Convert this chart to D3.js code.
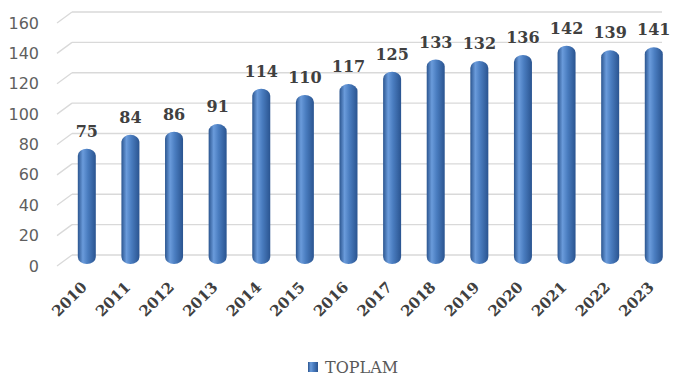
<!doctype html>
<html>
<head>
<meta charset="utf-8">
<script src="https://d3js.org/d3.v7.min.js"></script>
<style>
  body { margin: 0; background: #fff; }
</style>
</head>
<body>
<div id="chart"></div>
<script>
  var years = ["2010","2011","2012","2013","2014","2015","2016","2017","2018","2019","2020","2021","2022","2023"];
  var values = [75, 84, 86, 91, 114, 110, 117, 125, 133, 132, 136, 142, 139, 141];
  var yTicks = [0, 20, 40, 60, 80, 100, 120, 140, 160];
  var seriesName = "TOPLAM";

  var width = 678, height = 378;
  var depthX = 15, depthY = 11;

  var svg = d3.select("#chart").append("svg")
      .attr("width", width)
      .attr("height", height);

  var defs = svg.append("defs");
  var grad = defs.append("linearGradient")
      .attr("id", "cyl")
      .attr("x1", "0%").attr("x2", "100%")
      .attr("y1", "0%").attr("y2", "0%");
  grad.append("stop").attr("offset", "0%").attr("stop-color", "#2b558f");
  grad.append("stop").attr("offset", "28%").attr("stop-color", "#6a9bdb");
  grad.append("stop").attr("offset", "55%").attr("stop-color", "#4a7dc0");
  grad.append("stop").attr("offset", "100%").attr("stop-color", "#2a5490");

  // back wall scale (gridlines) and front scale (bars)
  var yBack = d3.scaleLinear().domain([0, 160]).range([255, 12]);
  var yFront = d3.scaleLinear().domain([0, 160]).range([264, 18]);

  var x = d3.scaleBand()
      .domain(years)
      .range([65, 675.6])
      .padding(0);

  var gridX0 = 72, gridX1 = 662;

  // gridlines with the perspective diagonal on the left
  var grid = svg.append("g");
  grid.selectAll("line.h")
    .data(yTicks)
    .enter().append("line")
      .attr("x1", gridX0).attr("x2", gridX1)
      .attr("y1", function(d) { return yBack(d); })
      .attr("y2", function(d) { return yBack(d); })
      .attr("stroke", "#d9d9d9")
      .attr("stroke-width", 1.3);
  grid.selectAll("line.d")
    .data(yTicks)
    .enter().append("line")
      .attr("x1", gridX0 - depthX).attr("x2", gridX0)
      .attr("y1", function(d) { return yBack(d) + depthY; })
      .attr("y2", function(d) { return yBack(d); })
      .attr("stroke", "#d9d9d9")
      .attr("stroke-width", 1.3);

  // y labels
  svg.append("g").selectAll("text")
    .data(yTicks)
    .enter().append("text")
      .attr("x", 39)
      .attr("y", function(d) { return yBack(d) + depthY; })
      .attr("dy", "0.35em")
      .attr("text-anchor", "end")
      .attr("font-family", "DejaVu Sans, sans-serif")
      .attr("font-size", 16)
      .attr("fill", "#5f5f5f")
      .text(function(d) { return d; });

  // bars
  var bw = 18;
  svg.append("g").selectAll("rect")
    .data(values)
    .enter().append("rect")
      .attr("x", function(d, i) { return x(years[i]) + x.bandwidth() / 2 - bw / 2; })
      .attr("y", function(d) { return yFront(d); })
      .attr("width", bw)
      .attr("height", function(d) { return yFront(0) - yFront(d); })
      .attr("rx", bw / 2)
      .attr("ry", 7)
      .attr("fill", "url(#cyl)");

  // value labels
  svg.append("g").selectAll("text")
    .data(values)
    .enter().append("text")
      .attr("x", function(d, i) { return x(years[i]) + x.bandwidth() / 2; })
      .attr("y", function(d) { return yFront(d) - 12; })
      .attr("text-anchor", "middle")
      .attr("font-family", "DejaVu Serif, serif")
      .attr("font-weight", "bold")
      .attr("font-size", 16)
      .attr("fill", "#404040")
      .text(function(d) { return d; });

  // x labels rotated
  svg.append("g").selectAll("text")
    .data(years)
    .enter().append("text")
      .attr("transform", function(d) {
        return "translate(" + (x(d) + x.bandwidth() / 2 + 1) + "," + 288 + ") rotate(-45)";
      })
      .attr("text-anchor", "end")
      .attr("font-family", "DejaVu Serif, serif")
      .attr("font-weight", "bold")
      .attr("font-size", 15)
      .attr("fill", "#404040")
      .text(function(d) { return d; });

  // legend
  var legend = svg.append("g").attr("transform", "translate(308,367)");
  legend.append("rect")
      .attr("x", 0).attr("y", -5)
      .attr("width", 10).attr("height", 10)
      .attr("fill", "url(#cyl)");
  legend.append("text")
      .attr("x", 17).attr("y", 0)
      .attr("dy", "0.35em")
      .attr("font-family", "DejaVu Serif, serif")
      .attr("font-size", 16)
      .attr("fill", "#595959")
      .text(seriesName);
</script>
</body>
</html>
